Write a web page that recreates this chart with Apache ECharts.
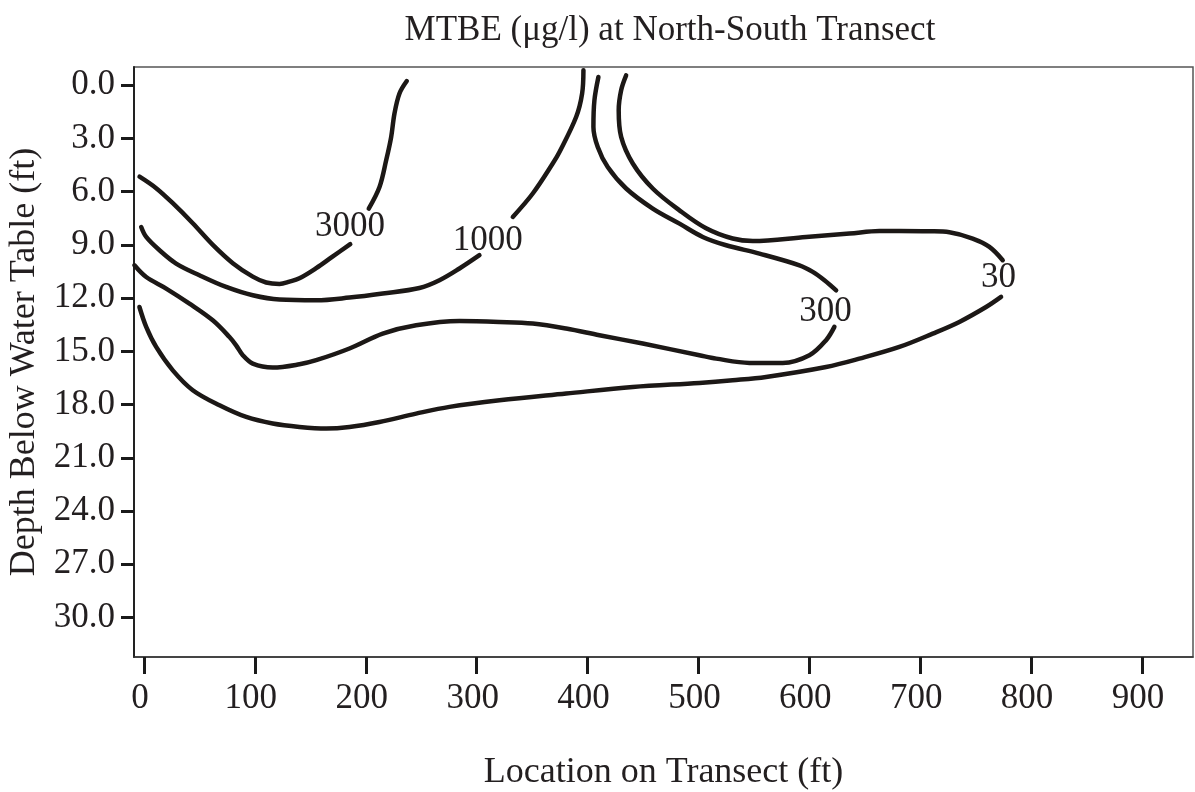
<!DOCTYPE html>
<html>
<head>
<meta charset="utf-8">
<script src="https://cdn.jsdelivr.net/npm/echarts@6/dist/echarts.min.js"></script>
<style>
html,body{margin:0;padding:0;background:#fff;}
#chart{width:1195px;height:792px;}
</style>
</head>
<body>
<div id="chart"></div>
<script>
// Contour levels (MTBE, ug/l) and their lines: [location ft, depth ft]; null = gap for label
const contourLevels = ['3000', '1000', '300', '30'];

const contour3000 = [[-4.0,5.15],[11.0,5.8],[26.0,6.65],[44.0,7.78],[62.1,9.0],[80.1,10.03],[98.1,10.79],[110.2,11.12],[122.2,11.2],[131.2,11.07],[140.2,10.88],[155.3,10.31],[170.0,9.66],[186.0,8.96],
  null,
  [202.7,6.95],[212.4,5.73],[218.4,4.23],[222.9,2.92],[225.9,1.59],[230.4,0.46],[237.0,-0.24]];

const contour1000 = [[-2.5,7.99],[2.0,8.55],[14.0,9.30],[29.0,10.05],[50.0,10.71],[74.1,11.37],[98.1,11.84],[122.2,12.08],[155.3,12.12],[185.3,11.97],[215.3,11.74],[248.4,11.43],[266.5,10.99],[284.5,10.33],[302.5,9.58],
  null,
  [332.6,7.42],[350.6,6.10],[368.6,4.41],[374.7,3.76],[389.7,1.79],[395.1,0.47],[396.3,-0.85]];

const contour300 = [[409.8,-0.47],[406.2,0.85],[405.3,2.35],[409.2,3.48],[418.2,4.61],[434.8,5.82],[458.8,6.95],[482.9,7.80],[503.9,8.55],[525.0,9.02],[555.0,9.49],[591.1,10.15],[603.1,10.52],[613.6,10.99],[624.2,11.56],
  null,
  [622.6,13.62],[615.1,14.37],[600.1,15.22],[576.0,15.65],[546.0,15.65],[516.0,15.41],[500.9,15.22],[449.8,14.56],[410.7,14.09],[380.7,13.71],[350.6,13.43],[320.6,13.34],[284.5,13.29],[245.4,13.53],[215.3,14.0],[185.3,14.84],[155.3,15.5],[140.2,15.73],[116.1,15.91],[98.1,15.69],[89.1,15.22],[83.1,14.66],[77.1,14.19],[62.0,13.25],[41.0,12.31],[20.0,11.46],[2.0,10.81],[-8.6,10.15]];

const contour30 = [[434.8,-0.56],[430.3,0.28],[428.1,1.41],[430.3,2.91],[440.8,4.41],[458.8,5.82],[482.9,7.05],[506.9,8.06],[530.9,8.64],[549.0,8.78],[597.1,8.55],[636.2,8.36],[663.2,8.21],[681.2,8.21],[708.3,8.23],[726.3,8.29],[747.3,8.64],[762.4,9.11],[774.4,9.86],
  null,
  [772.9,11.93],[759.4,12.50],[735.3,13.34],[711.3,14.0],[681.2,14.75],[645.1,15.41],[615.1,15.88],[561.0,16.44],[530.9,16.63],[500.9,16.78],[440.8,17.01],[380.7,17.38],[320.6,17.76],[275.5,18.13],[245.4,18.51],[212.4,18.98],[185.3,19.26],[164.3,19.35],[140.2,19.26],[116.1,19.07],[92.2,18.70],[68.1,18.04],[44.0,17.19],[26.0,16.07],[11.0,14.75],[2.0,13.62],[-4.1,12.50]];

// label anchor positions for each contour level
const labelPositions = [[185.9,7.99],[310.0,8.78],[614.5,12.78],[770.5,10.84]];

const xTicks = [0,100,200,300,400,500,600,700,800,900];
const yTicks = [0,3,6,9,12,15,18,21,24,27,30];

const titleText = 'MTBE (\u03bcg/l) at North-South Transect';
const xName = 'Location on Transect (ft)';
const yName = 'Depth Below Water Table (ft)';

const FONT = '"Liberation Serif", "Times New Roman", serif';
const INK = '#231f20';
const LINE = '#1c1816';

function splitSegments(arr){
  const segs=[]; let cur=[];
  arr.forEach(p=>{ if(p===null){ if(cur.length) segs.push(cur); cur=[]; } else cur.push(p); });
  if(cur.length) segs.push(cur);
  return segs;
}

const series=[];
[contour3000, contour1000, contour300, contour30].forEach((c,i)=>{
  splitSegments(c).forEach(seg=>{
    series.push({
      type:'line', data:seg, smooth:0.35, symbol:'none', silent:true,
      lineStyle:{color:LINE, width:4.5, cap:'round', join:'round'},
      animation:false, z:2
    });
  });
});
series.push({
  type:'scatter', symbolSize:0, silent:true, animation:false, z:3,
  itemStyle:{opacity:1, color:INK},
  data: labelPositions.map((p,i)=>({value:p, name:contourLevels[i]})),
  label:{show:true, position:'inside', formatter:p=>p.name, fontFamily:FONT, fontSize:35, color:INK, opacity:1}
});

const chart = echarts.init(document.getElementById('chart'), null, {renderer:'canvas'});
chart.setOption({
  animation:false,
  backgroundColor:'#fff',
  title:{text:titleText, left:665, top:8, textAlign:'center',
    textStyle:{fontFamily:FONT, fontSize:35, fontWeight:'normal', color:INK}},
  grid:{left:134, top:67, right:2, bottom:135, containLabel:false, outerBoundsMode:'none',
    show:true, borderColor:'#555', borderWidth:1.5, backgroundColor:'transparent'},
  xAxis:{type:'value', min:-9, max:946,
    name:xName, nameLocation:'middle', nameGap:98,
    nameTextStyle:{fontFamily:FONT, fontSize:36, color:INK},
    axisLine:{show:true, onZero:false, lineStyle:{color:'#333', width:1.5}},
    axisTick:{show:true, length:17, customValues:xTicks, lineStyle:{color:'#1a1a1a', width:3}},
    axisLabel:{customValues:xTicks, margin:24, fontFamily:FONT, fontSize:35, color:INK, padding:[0,8,0,0]},
    splitLine:{show:false}},
  yAxis:{type:'value', inverse:true, min:-1.03, max:32.23,
    name:yName, nameLocation:'middle', nameGap:90, nameRotate:90,
    nameTextStyle:{fontFamily:FONT, fontSize:36, color:INK},
    axisLine:{show:true, onZero:false, lineStyle:{color:'#222', width:2}},
    axisTick:{show:true, length:13, customValues:yTicks, lineStyle:{color:'#1a1a1a', width:3}},
    axisLabel:{customValues:yTicks, margin:19, fontFamily:FONT, fontSize:35, color:INK, formatter:v=>v.toFixed(1)},
    splitLine:{show:false}},
  series:series
});
</script>
</body>
</html>
